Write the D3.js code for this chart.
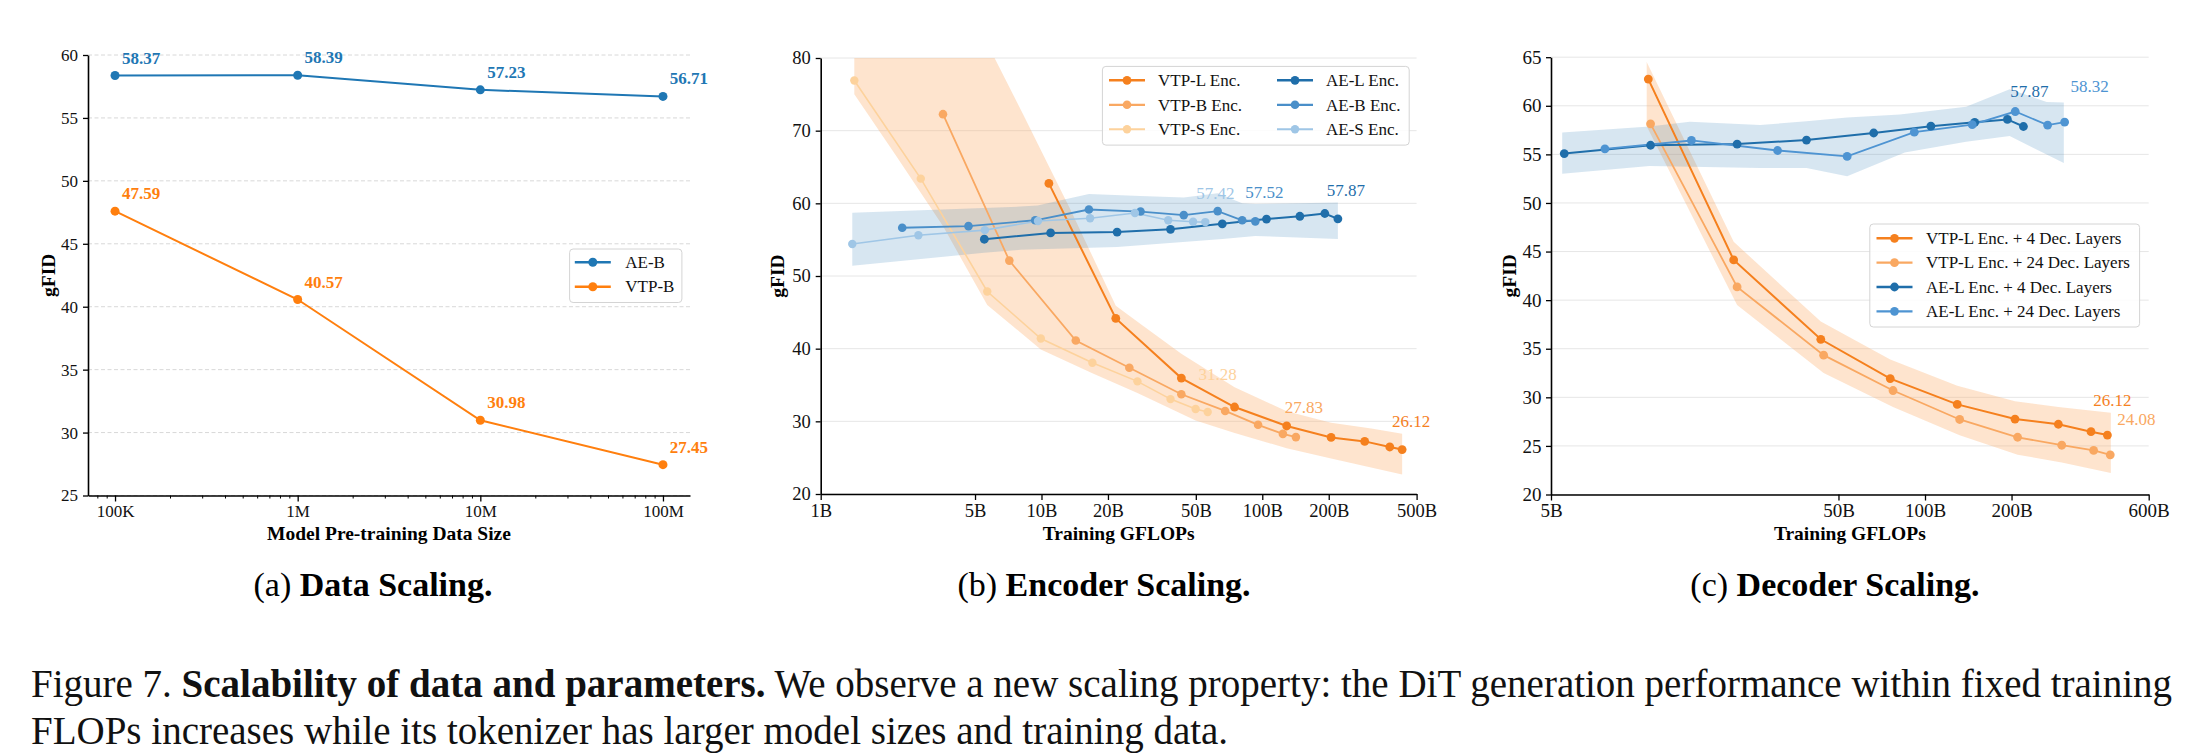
<!DOCTYPE html>
<html>
<head>
<meta charset="utf-8">
<script src="https://cdn.jsdelivr.net/npm/d3@7"></script>
<style>
  html, body { margin: 0; padding: 0; background: #fff; }
  svg { display: block; }
  text { font-family: "Liberation Serif", "Times New Roman", serif; }
</style>
</head>
<body>
<svg id="fig" width="2202" height="754"></svg>
<script>
// ---------- (a) data scaling ----------
const dataSizeX = [1e5, 1e6, 1e7, 1e8];
const dataSizeTickLabels = ['100K', '1M', '10M', '100M'];
const aeBFid = [58.37, 58.39, 57.23, 56.71];
const vtpBFid = [47.59, 40.57, 30.98, 27.45];
const aYTicks = [25, 30, 35, 40, 45, 50, 55, 60];

// ---------- (b) encoder scaling (training GFLOPs, in B) ----------
const vtpLEncX = [10.8, 21.7, 43, 74.9, 129, 205, 291, 378, 430];
const vtpLEncY = [62.74, 44.17, 35.95, 31.97, 29.36, 27.78, 27.24, 26.47, 26.12];
const vtpBEncX = [3.58, 7.15, 14.3, 25, 43, 67.9, 95.7, 124, 142];
const vtpBEncY = [72.27, 52.12, 41.12, 37.37, 33.72, 31.43, 29.52, 28.27, 27.83];
const vtpSEncX = [1.42, 2.84, 5.68, 9.93, 17, 27.2, 38.4, 49.9, 56.6];
const vtpSEncY = [76.9, 63.4, 47.87, 41.4, 38.07, 35.5, 33.06, 31.7, 31.28];
const aeLEncX = [5.51, 11.0, 22.0, 38.4, 65.9, 104.5, 148, 192, 220];
const aeLEncY = [55.06, 55.93, 56.04, 56.42, 57.18, 57.84, 58.22, 58.6, 57.87];
const aeBEncX = [2.34, 4.67, 9.36, 16.4, 28.1, 44.1, 62.8, 81.1, 93];
const aeBEncY = [56.64, 56.86, 57.67, 59.15, 58.87, 58.38, 58.93, 57.67, 57.52];
const aeSEncX = [1.39, 2.77, 5.54, 9.64, 16.6, 26.5, 37.5, 48.6, 55.2];
const aeSEncY = [54.41, 55.61, 56.31, 57.57, 57.95, 58.66, 57.67, 57.46, 57.42];
// shaded spread bands [x, gFID]
const vtpEncBandUpper = [[1.42, 80], [6.13, 80], [8.24, 72.3], [13.5, 59.2], [21.7, 45.9], [28.1, 43.4], [43, 39.3], [74.9, 34.7], [129, 31.4], [205, 29.8], [312, 29.0], [430, 28.3]];
const vtpEncBandLower = [[1.42, 75.0], [2.21, 66.4], [3.59, 56.8], [5.68, 46.0], [9.93, 39.9], [17, 36.6], [27.2, 33.9], [49.9, 30.1], [75, 28.4], [129, 26.3], [205, 24.9], [430, 22.7]];
const aeEncBandUpper = [[1.39, 58.7], [8, 59.55], [9.6, 59.7], [16.4, 61.3], [28.1, 61.0], [44.1, 60.8], [62.8, 61.4], [81.1, 60.0], [93, 59.9], [220, 60.1]];
const aeEncBandLower = [[1.39, 51.4], [5.5, 53.2], [8, 53.6], [22, 54.0], [66, 55.1], [93, 55.5], [220, 55.1]];
const bXTicks = [1, 5, 10, 20, 50, 100, 200, 500];
const bXTickLabels = ['1B', '5B', '10B', '20B', '50B', '100B', '200B', '500B'];
const bYTicks = [20, 30, 40, 50, 60, 70, 80];

// ---------- (c) decoder scaling ----------
const vtpL4DecX = [10.9, 21.6, 43.4, 75.7, 129.5, 205.6, 291, 378, 431];
const vtpL4DecY = [62.75, 44.14, 35.97, 31.93, 29.27, 27.76, 27.23, 26.46, 26.12];
const vtpL24DecX = [11.1, 22.2, 44.4, 77.4, 132, 210, 299, 386, 441];
const vtpL24DecY = [58.14, 41.36, 34.34, 30.7, 27.72, 25.89, 25.07, 24.54, 24.08];
const aeL4DecX = [5.56, 11.1, 22.2, 38.7, 66.3, 104.8, 148.9, 193.5, 220];
const aeL4DecY = [55.08, 55.94, 56.06, 56.47, 57.2, 57.9, 58.3, 58.6, 57.87];
const aeL24DecX = [7.7, 15.4, 30.7, 53.6, 91.8, 146, 206, 267, 306];
const aeL24DecY = [55.57, 56.43, 55.4, 54.79, 57.28, 58.06, 59.41, 58.02, 58.32];
const vtpDecBandUpper = [[10.76, 64.5], [21.6, 46.0], [43.4, 37.8], [75.7, 33.9], [129.5, 31.2], [205.6, 29.6], [291, 29.0], [443, 28.4]];
const vtpDecBandLower = [[10.76, 57.9], [22.2, 39.5], [44.4, 32.5], [77.4, 29.0], [132, 26.1], [210, 24.1], [299, 23.3], [443, 22.2]];
const aeDecBandUpper = [[5.47, 57.24], [11, 57.86], [15.2, 58.37], [26.7, 58.03], [38.7, 58.4], [53.6, 58.8], [81.8, 59.1], [139, 59.9], [197, 61.7], [265, 60.4], [304, 60.33]];
const aeDecBandLower = [[5.47, 53.0], [11, 53.8], [26.7, 53.6], [38.7, 53.6], [53.6, 52.75], [85, 55.2], [139, 56.3], [197, 56.9], [304, 54.1]];
const cXTicks = [5, 50, 100, 200, 600];
const cXTickLabels = ['5B', '50B', '100B', '200B', '600B'];
const cYTicks = [20, 25, 30, 35, 40, 45, 50, 55, 60, 65];

const svg = d3.select('#fig');
svg.append('rect').attr('width', 2202).attr('height', 754).attr('fill', '#fff');
const defs = svg.append('defs');

const zip = (xs, ys) => xs.map((v, i) => [v, ys[i]]);

function drawPanel(cfg) {
  const g = svg.append('g');
  const x = d3.scaleLog().domain(cfg.xDomain).range([cfg.left, cfg.right]);
  const y = d3.scaleLinear().domain(cfg.yDomain).range([cfg.bottom, cfg.top]);

  defs.append('clipPath').attr('id', 'clip-' + cfg.id).append('rect')
    .attr('x', cfg.left).attr('y', cfg.top)
    .attr('width', cfg.right - cfg.left).attr('height', cfg.bottom - cfg.top);

  // grid
  g.append('g').selectAll('line').data(cfg.yTicks).join('line')
    .attr('x1', cfg.left).attr('x2', cfg.right)
    .attr('y1', d => y(d)).attr('y2', d => y(d))
    .attr('stroke', cfg.gridColor).attr('stroke-width', 1)
    .attr('stroke-dasharray', cfg.gridDash || null);

  const plot = g.append('g').attr('clip-path', `url(#clip-${cfg.id})`);

  // bands
  const line = d3.line().x(d => x(d[0])).y(d => y(d[1]));
  (cfg.bands || []).forEach(b => {
    const poly = b.upper.concat(b.lower.slice().reverse());
    plot.append('path').attr('d', line(poly) + 'Z')
      .attr('fill', b.color).attr('fill-opacity', b.opacity).attr('stroke', 'none');
  });

  // series
  cfg.series.forEach(s => {
    const pts = zip(s.x, s.y);
    plot.append('path').attr('d', line(pts))
      .attr('fill', 'none').attr('stroke', s.color).attr('stroke-width', s.lw);
    g.append('g').selectAll('circle').data(pts).join('circle')
      .attr('cx', d => x(d[0])).attr('cy', d => y(d[1])).attr('r', s.r)
      .attr('fill', s.color);
  });

  // value labels
  cfg.labels.forEach(l => {
    const s = cfg.series[l.s];
    const idxs = l.all ? s.x.map((_, i) => i) : [s.x.length - 1];
    idxs.forEach(i => {
      g.append('text')
        .attr('x', x(s.x[i]) + l.dx).attr('y', y(s.y[i]) + l.dy)
        .attr('text-anchor', 'middle')
        .attr('font-size', 17).attr('font-weight', l.bold ? 'bold' : 'normal')
        .attr('fill', s.color)
        .text(s.y[i].toFixed(2));
    });
  });

  // axes
  const yAxis = d3.axisLeft(y).tickValues(cfg.yTicks).tickFormat(d3.format('d'))
    .tickSize(5).tickSizeOuter(0).tickPadding(cfg.yPad);
  const ya = g.append('g').attr('transform', `translate(${cfg.left},0)`).call(yAxis);
  const xAxis = d3.axisBottom(x).tickValues(cfg.xTicks)
    .tickFormat((d, i) => cfg.xTickLabels[i]).tickSize(6).tickSizeOuter(0).tickPadding(cfg.xPad);
  const xa = g.append('g').attr('transform', `translate(0,${cfg.bottom})`).call(xAxis);
  if (cfg.minorX) {
    const mx = g.append('g').attr('transform', `translate(0,${cfg.bottom})`)
      .call(d3.axisBottom(x).tickValues(cfg.minorX).tickFormat('').tickSize(3).tickSizeOuter(0));
    mx.select('.domain').remove();
    mx.selectAll('line').attr('stroke', '#000').attr('stroke-width', 1);
  }
  [ya, xa].forEach(a => {
    a.select('.domain').attr('stroke', '#000').attr('stroke-width', 1.6);
    a.selectAll('.tick line').attr('stroke', '#000').attr('stroke-width', 1.3);
    a.selectAll('.tick text').attr('fill', '#111').attr('font-size', cfg.tickFont)
      .attr('font-family', '"Liberation Serif", "Times New Roman", serif');
  });

  // titles
  g.append('text').attr('x', (cfg.left + cfg.right) / 2).attr('y', 540)
    .attr('text-anchor', 'middle').attr('font-size', 19.5).attr('font-weight', 'bold')
    .text(cfg.xTitle);
  g.append('text')
    .attr('transform', `translate(${cfg.left - cfg.yTitleOff},${(cfg.top + cfg.bottom) / 2}) rotate(-90)`)
    .attr('text-anchor', 'middle').attr('dy', '0.35em')
    .attr('font-size', 19.5).attr('font-weight', 'bold').text('gFID');

  // legend
  const lg = cfg.legend;
  g.append('rect').attr('x', lg.x).attr('y', lg.y).attr('width', lg.w).attr('height', lg.h)
    .attr('rx', 3.5).attr('fill', '#fff').attr('fill-opacity', 0.85)
    .attr('stroke', '#d4d4d4').attr('stroke-width', 1);
  lg.items.forEach(it => {
    const s = cfg.series[it.s];
    g.append('line').attr('x1', it.x).attr('x2', it.x + 36).attr('y1', it.y).attr('y2', it.y)
      .attr('stroke', s.color).attr('stroke-width', s.lw + 0.4);
    g.append('circle').attr('cx', it.x + 18).attr('cy', it.y).attr('r', s.r).attr('fill', s.color);
    g.append('text').attr('x', it.x + lg.textOff).attr('y', it.y).attr('dy', '0.34em')
      .attr('font-size', 17).attr('fill', '#111').text(s.name);
  });

  // sub caption
  g.append('text').attr('x', cfg.subX).attr('y', 596).attr('text-anchor', 'middle')
    .attr('font-size', 34)
    .call(t => {
      t.append('tspan').text(cfg.subLabel + ' ');
      t.append('tspan').attr('font-weight', 'bold').text(cfg.subTitle);
    });
}

// minor ticks for the log axis in (a)
const aMinor = [];
[1e4, 1e5, 1e6, 1e7].forEach(dec => { for (let k = 2; k <= 9; k++) aMinor.push(dec * k); });

const aDomain = [Math.pow(10, 4.852), Math.pow(10, 8.148)];

drawPanel({
  id: 'a', left: 88, right: 690, top: 55, bottom: 495.5,
  xDomain: aDomain, yDomain: [25, 60],
  xTicks: dataSizeX, xTickLabels: dataSizeTickLabels,
  minorX: aMinor.filter(v => v > aDomain[0] && v < aDomain[1]),
  yTicks: aYTicks, gridColor: '#d8d8d8', gridDash: '4 2.5',
  tickFont: 17, xPad: 3.5, yPad: 5,
  series: [
    { name: 'AE-B', x: dataSizeX, y: aeBFid, color: '#1f77b4', lw: 2, r: 4.5 },
    { name: 'VTP-B', x: dataSizeX, y: vtpBFid, color: '#ff7f0e', lw: 2, r: 4.5 }
  ],
  labels: [
    { s: 0, all: true, dx: 26, dy: -12, bold: true },
    { s: 1, all: true, dx: 26, dy: -12, bold: true }
  ],
  xTitle: 'Model Pre-training Data Size', yTitleOff: 40,
  legend: { x: 569.6, y: 249, w: 112.3, h: 53.5, textOff: 50.5,
    items: [{ s: 0, x: 574.8, y: 262.2 }, { s: 1, x: 574.8, y: 286.7 }] },
  subX: 373, subLabel: '(a)', subTitle: 'Data Scaling.'
});

drawPanel({
  id: 'b', left: 820.7, right: 1416.6, top: 58, bottom: 494,
  xDomain: [1, 500], yDomain: [20, 80],
  xTicks: bXTicks, xTickLabels: bXTickLabels,
  yTicks: bYTicks, gridColor: '#e6e6e6',
  tickFont: 18.5, xPad: 4, yPad: 5,
  bands: [
    { upper: vtpEncBandUpper, lower: vtpEncBandLower, color: '#fdae6b', opacity: 0.33 },
    { upper: aeEncBandUpper, lower: aeEncBandLower, color: '#1f77b4', opacity: 0.18 }
  ],
  series: [
    { name: 'VTP-L Enc.', x: vtpLEncX, y: vtpLEncY, color: '#f5801e', lw: 2, r: 4.4 },
    { name: 'VTP-B Enc.', x: vtpBEncX, y: vtpBEncY, color: '#f9a862', lw: 1.8, r: 4.3 },
    { name: 'VTP-S Enc.', x: vtpSEncX, y: vtpSEncY, color: '#fdd29c', lw: 1.6, r: 4.2 },
    { name: 'AE-L Enc.', x: aeLEncX, y: aeLEncY, color: '#1f6eaa', lw: 2, r: 4.4 },
    { name: 'AE-B Enc.', x: aeBEncX, y: aeBEncY, color: '#4a8fc9', lw: 1.8, r: 4.3 },
    { name: 'AE-S Enc.', x: aeSEncX, y: aeSEncY, color: '#9fc6e6', lw: 1.6, r: 4.2 }
  ],
  labels: [
    { s: 0, dx: 9, dy: -23 }, { s: 1, dx: 8, dy: -24 }, { s: 2, dx: 10, dy: -32 },
    { s: 3, dx: 8, dy: -23 }, { s: 4, dx: 9, dy: -23 }, { s: 5, dx: 10, dy: -23 }
  ],
  xTitle: 'Training GFLOPs', yTitleOff: 44,
  legend: { x: 1102.4, y: 66.4, w: 306.8, h: 78.7, textOff: 49,
    items: [
      { s: 0, x: 1109, y: 80.3 }, { s: 1, x: 1109, y: 104.8 }, { s: 2, x: 1109, y: 129.3 },
      { s: 3, x: 1277, y: 80.3 }, { s: 4, x: 1277, y: 104.8 }, { s: 5, x: 1277, y: 129.3 }
    ] },
  subX: 1104, subLabel: '(b)', subTitle: 'Encoder Scaling.'
});

drawPanel({
  id: 'c', left: 1551, right: 2148.7, top: 57.2, bottom: 494.5,
  xDomain: [5, 600], yDomain: [20, 65],
  xTicks: cXTicks, xTickLabels: cXTickLabels,
  yTicks: cYTicks, gridColor: '#e6e6e6',
  tickFont: 19, xPad: 3.3, yPad: 4.5,
  bands: [
    { upper: vtpDecBandUpper, lower: vtpDecBandLower, color: '#fdae6b', opacity: 0.33 },
    { upper: aeDecBandUpper, lower: aeDecBandLower, color: '#1f77b4', opacity: 0.18 }
  ],
  series: [
    { name: 'VTP-L Enc. + 4 Dec. Layers', x: vtpL4DecX, y: vtpL4DecY, color: '#f5801e', lw: 2, r: 4.4 },
    { name: 'VTP-L Enc. + 24 Dec. Layers', x: vtpL24DecX, y: vtpL24DecY, color: '#f9a862', lw: 1.8, r: 4.4 },
    { name: 'AE-L Enc. + 4 Dec. Layers', x: aeL4DecX, y: aeL4DecY, color: '#1f6eaa', lw: 2, r: 4.4 },
    { name: 'AE-L Enc. + 24 Dec. Layers', x: aeL24DecX, y: aeL24DecY, color: '#4e94d2', lw: 1.8, r: 4.4 }
  ],
  labels: [
    { s: 0, dx: 5, dy: -29 }, { s: 1, dx: 26, dy: -30 },
    { s: 2, dx: 6, dy: -29 }, { s: 3, dx: 25, dy: -30 }
  ],
  xTitle: 'Training GFLOPs', yTitleOff: 42,
  legend: { x: 1869.8, y: 224, w: 269.8, h: 103, textOff: 49.5,
    items: [
      { s: 0, x: 1876.5, y: 238.3 }, { s: 1, x: 1876.5, y: 262.7 },
      { s: 2, x: 1876.5, y: 287 }, { s: 3, x: 1876.5, y: 311.3 }
    ] },
  subX: 1835, subLabel: '(c)', subTitle: 'Decoder Scaling.'
});

// figure caption
const cap = svg.append('g').attr('font-size', 39).attr('fill', '#111');
cap.append('text').attr('x', 31).attr('y', 697)
  .call(t => {
    t.append('tspan').text('Figure 7. ');
    t.append('tspan').attr('font-weight', 'bold').text('Scalability of data and parameters.');
    t.append('tspan').text(' We observe a new scaling property: the DiT generation performance within fixed training');
  });
cap.append('text').attr('x', 31).attr('y', 744)
  .text('FLOPs increases while its tokenizer has larger model sizes and training data.');
</script>
</body>
</html>
